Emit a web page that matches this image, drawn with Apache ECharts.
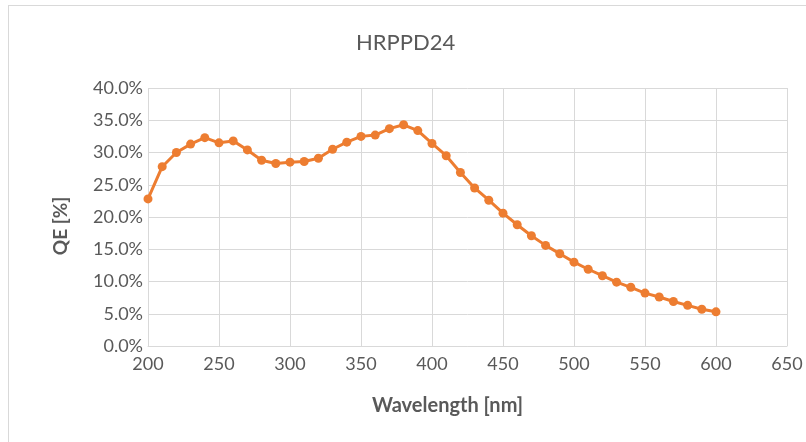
<!DOCTYPE html>
<html>
<head>
<meta charset="utf-8">
<script src="https://cdn.jsdelivr.net/npm/echarts@6/dist/echarts.min.js"></script>
<style>
    html, body { margin: 0; padding: 0; background: #fff; }
    #frame { position: absolute; left: 8px; top: 5px; width: 900px; height: 500px; border: 1px solid #d9d9d9; }
    #chart { position: absolute; left: 0; top: 0; width: 806px; height: 442px; }
</style>
</head>
<body>
<div id="frame"></div>
<div id="chart"></div>
<script>
    // wavelength in nm, QE in %
    var wavelength = [200, 210, 220, 230, 240, 250, 260, 270, 280, 290,
                      300, 310, 320, 330, 340, 350, 360, 370, 380, 390,
                      400, 410, 420, 430, 440, 450, 460, 470, 480, 490,
                      500, 510, 520, 530, 540, 550, 560, 570, 580, 590, 600];
    var qe = [22.8, 27.8, 30.0, 31.3, 32.3, 31.5, 31.8, 30.4, 28.8, 28.3,
              28.5, 28.6, 29.1, 30.5, 31.6, 32.5, 32.7, 33.7, 34.3, 33.4,
              31.4, 29.5, 26.9, 24.5, 22.6, 20.6, 18.8, 17.1, 15.6, 14.3,
              13.0, 11.9, 10.9, 9.9, 9.1, 8.2, 7.6, 6.9, 6.3, 5.7, 5.3];

    var points = [];
    for (var i = 0; i < wavelength.length; i++) {
        points.push([wavelength[i], qe[i]]);
    }

    var chart = echarts.init(document.getElementById('chart'));
    var textColor = '#595959';
    chart.setOption({
        animation: false,
        title: {
            text: 'HRPPD24',
            left: 351,
            top: 27,
            textStyle: { color: textColor, fontSize: 22, fontWeight: 'normal', fontFamily: 'Lato' }
        },
        grid: { left: 148, right: 19, top: 88, bottom: 96 },
        xAxis: {
            type: 'value',
            min: 200, max: 650, interval: 50,
            name: 'Wavelength [nm]',
            nameLocation: 'middle',
            nameGap: 50,
            nameTextStyle: { color: textColor, fontSize: 20, fontWeight: 'bold', fontFamily: 'Lato', padding: [0, 40, 0, 0] },
            axisLine: { show: true, lineStyle: { color: '#d9d9d9' } },
            axisTick: { show: false },
            axisLabel: { color: textColor, fontSize: 18, fontFamily: 'Lato', margin: 9 },
            splitLine: { show: true, lineStyle: { color: '#d9d9d9' } }
        },
        yAxis: {
            type: 'value',
            min: 0, max: 40, interval: 5,
            name: 'QE [%]',
            nameLocation: 'middle',
            nameGap: 78,
            nameRotate: 90,
            nameTextStyle: { color: textColor, fontSize: 19, fontWeight: 'bold', fontFamily: 'Lato', padding: [0, 18, 0, 0] },
            axisLine: { show: false },
            axisTick: { show: false },
            axisLabel: {
                color: textColor, fontSize: 18, fontFamily: 'Lato', margin: 5,
                formatter: function (v) { return v.toFixed(1) + '%'; }
            },
            splitLine: { show: true, lineStyle: { color: '#d9d9d9' } }
        },
        series: [{
            type: 'line',
            data: points,
            symbol: 'circle',
            symbolSize: 9,
            lineStyle: { color: '#ED7D31', width: 3 },
            itemStyle: { color: '#ED7D31' }
        }]
    });
</script>
</body>
</html>
